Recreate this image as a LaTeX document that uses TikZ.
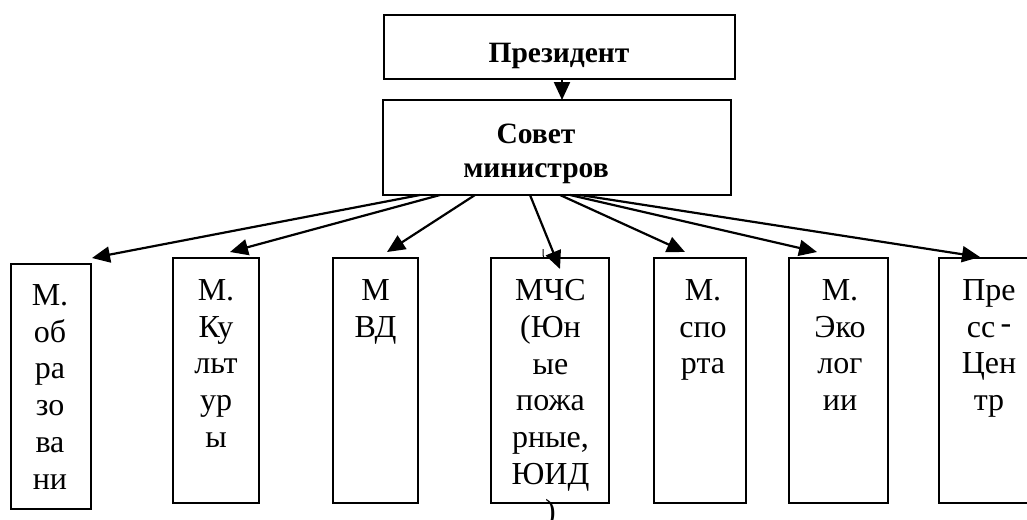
\documentclass[tikz,border=0pt]{standalone}
\usepackage{fontspec}
\setmainfont{Liberation Serif}
\usetikzlibrary{arrows.meta}
\begin{document}
\begin{tikzpicture}[x=1pt,y=-1pt,
  box/.style={draw, line width=1.8pt, inner sep=0pt, outer sep=0pt},
  lbl/.style={anchor=north, align=center, inner sep=0pt,
    font=\fontsize{32}{36.8}\selectfont, execute at begin node=\strut},
  blbl/.style={anchor=north, align=center, inner sep=0pt,
    font=\bfseries\fontsize{29.5}{34}\selectfont, execute at begin node=\strut},
  arr/.style={line width=2.2pt, -{Triangle[length=18pt,width=16pt]}}
]
\useasboundingbox (0,0) rectangle (1027,519);
% top boxes
\node[box, minimum width=351pt, minimum height=64pt] (pres) at (559.5,47) {};
\node[box, minimum width=348pt, minimum height=95pt] (council) at (557,147.5) {};
\node[blbl] (prestext) at (559,38.2) {Президент};
\node[blbl] (counciltext) at (536,124.2) {Совет\\министров};
% bottom boxes
\node[box, minimum width=80pt,  minimum height=245pt] (m1) at (51,386.5) {};
\node[box, minimum width=86pt,  minimum height=245pt] (m2) at (216,380.5) {};
\node[box, minimum width=85pt,  minimum height=245pt] (m3) at (375.5,380.5) {};
\node[box, minimum width=118pt, minimum height=245pt] (m4) at (550,380.5) {};
\node[box, minimum width=92pt,  minimum height=245pt] (m5) at (700,380.5) {};
\node[box, minimum width=99pt,  minimum height=245pt] (m6) at (838.5,380.5) {};
\node[box, minimum width=101pt, minimum height=245pt] (m7) at (989.5,380.5) {};
% texts
\node[lbl] (t1) at (50,284.1) {М.\\об\\ра\\зо\\ва\\ни};
\node[lbl] (t2) at (216,279.1) {М.\\Ку\\льт\\ур\\ы};
\node[lbl] (t3) at (375.5,279.1) {М\\ВД};
\node[lbl] (t4) at (550.5,279.1) {МЧС\\(Юн\\ые\\пожа\\рные,\\ЮИД\\)};
\node[lbl] (t5) at (703,279.1) {М.\\спо\\рта};
\node[lbl] (t6) at (840,279.1) {М.\\Эко\\лог\\ии};
\node[lbl] (t7) at (989,279.1) {Пре\\сс\,\raisebox{3.5pt}{-}\\Цен\\тр};
% connector points
\coordinate (pb) at (pres.south -| 562,0);
\coordinate (ct) at (council.north -| 562,0);
\coordinate (o1) at (420,195); \coordinate (e1) at (92,258);
\coordinate (o2) at (440,195); \coordinate (e2) at (230,252);
\coordinate (o3) at (475,195); \coordinate (e3) at (387,252);
\coordinate (o4) at (530,195); \coordinate (e4) at (560,269);
\coordinate (o5) at (560,195); \coordinate (e5) at (685,252);
\coordinate (o6) at (570,195); \coordinate (e6) at (817,252);
\coordinate (o7) at (580,195); \coordinate (e7) at (980,257);
\draw[arr] (pb) -- (ct);
\draw[arr] (o1) -- (e1);
\draw[arr] (o2) -- (e2);
\draw[arr] (o3) -- (e3);
\draw[arr] (o4) -- (e4);
\draw[arr] (o5) -- (e5);
\draw[arr] (o6) -- (e6);
\draw[arr] (o7) -- (e7);
% stray mark above MChS box
\coordinate (k1) at (543,249); \coordinate (k2) at (544,258);
\draw[line width=1pt] (k1) -- (543,255) -- (k2);
\end{tikzpicture}
\end{document}
